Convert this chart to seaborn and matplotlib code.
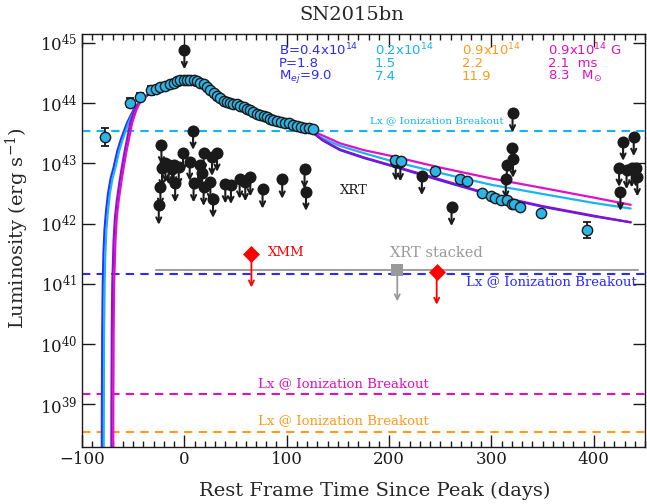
import numpy as np
import pandas as pd
import matplotlib
matplotlib.use("Agg")
import matplotlib.pyplot as plt
import seaborn as sns

# ---- bolometric light curve (rest-frame days since peak, erg/s) ----
lc_days = [-78, -53, -43.6, -33, -28, -23.4, -18.5, -13.7, -10, -7.2, -4, -0.6, 3, 5.9,
           9, 12.4, 15.5, 18.9, 22, 25.4, 28.5, 31.9, 35, 38.4, 41.5, 44.9, 48, 51.4,
           54.5, 57.9, 61, 64.4, 67.5, 70.9, 74, 77.4, 80.5, 83.9, 87, 90.4, 94, 98,
           102, 106, 110, 114, 118, 122, 126, 206, 211.4, 245, 269, 276.4, 290.4, 300,
           303.6, 309, 314.8, 319.7, 322, 327.8, 348, 393.5]
lc_lum = [2.75e43, 1.02e44, 1.26e44, 1.62e44, 1.74e44, 1.86e44, 1.95e44, 2.04e44,
          2.19e44, 2.29e44, 2.40e44, 2.45e44, 2.45e44, 2.45e44, 2.40e44, 2.29e44,
          2.19e44, 2.04e44, 1.86e44, 1.66e44, 1.48e44, 1.32e44, 1.20e44, 1.10e44,
          1.05e44, 1.00e44, 9.8e43, 9.5e43, 9.1e43, 8.7e43, 8.1e43, 7.8e43, 7.1e43,
          6.6e43, 6.3e43, 6.0e43, 5.8e43, 5.5e43, 5.2e43, 5.1e43, 4.9e43, 4.7e43,
          4.6e43, 4.4e43, 4.2e43, 4.0e43, 3.9e43, 3.8e43, 3.7e43, 1.12e43, 1.10e43,
          7.4e42, 5.4e42, 5.1e42, 3.2e42, 2.9e42, 2.7e42, 2.45e42, 2.5e42, 2.1e42,
          2.15e42, 1.86e42, 1.5e42, 7.9e41]
# error in dex (0 = no bar drawn)
lc_err = [0.15, 0.07, 0.07, 0.08] + [0] * 45 + [0.05, 0.05, 0.05] + [0] * 11 + [0.13]

# ---- Swift-XRT upper limits ----
xrt_days = [0, -22.4, 8.5, -1.3, 18.8, 31.9, 27, 5.2, -18.5, -15.3, -10.4, -5.5, -21.8,
            15.6, 17.3, -23.4, -9, 9, 18.8, 25.4, 28, 40, 45.5, 54, 59.5, 64.4, 76.4,
            95.6, 117.4, 118.8, -25, -12, 206.5, 211, 232, 261, 314, 315, 319.6, 321,
            320.6, 428.6, 439, 424.7, 432, 437, 441, 442.5, 426]
xrt_lum = [7.6e44, 2.0e43, 3.5e43, 1.48e43, 1.51e43, 1.51e43, 1.29e43, 1.07e43, 1.0e43,
           9.3e42, 9.3e42, 8.7e42, 8.3e42, 9.3e42, 6.8e42, 4.1e42, 4.7e42, 4.7e42,
           4.1e42, 4.9e42, 2.6e42, 4.5e42, 4.4e42, 5.4e42, 4.9e42, 5.9e42, 3.7e42,
           5.4e42, 7.9e42, 3.4e42, 2.0e42, 7.9e42, 1.07e43, 1.05e43, 6.2e42, 1.9e42,
           5.4e42, 9.3e42, 1.78e43, 1.2e43, 6.8e43, 2.3e43, 2.75e43, 8.5e42, 7.8e42,
           8.3e42, 8.5e42, 5.9e42, 3.4e42]

xmm_days = [65.5, 246.5]
xmm_lum = [3.1e41, 1.6e41]
stack_days = [208.0]
stack_lum = [1.7e41]
stack_span = [-28, 443]

# ---- magnetar models ----
rise_blue = [-80.7, -80.5, -80.2, -79.7, -79.0, -78.0, -76.5, -74.5, -72.0, -69.0, -65.5, -62.0, -56.0, -49.5]
rise_cyan = [-78.9, -78.7, -78.4, -77.9, -77.2, -76.2, -74.7, -72.7, -70.2, -67.2, -63.7, -60.2, -54.5, -48.5]
rise_blue_lum = [3e37, 1e39, 1.6e40, 1e41, 3.2e41, 7.9e41, 1.6e42, 3.2e42, 5.6e42, 8.7e42, 1.6e43, 2.5e43, 4.7e43, 7.8e43]
rise_mag = [-69.6, -69.4, -69.1, -68.6, -67.3, -66.0, -64.1, -61.5, -59.2, -56.5, -54.3, -51.0, -47.0]
rise_pur = [-71.4, -71.2, -70.9, -70.4, -69.1, -67.8, -65.9, -63.3, -61.0, -58.3, -56.1, -52.8, -48.8]
rise_mag_lum = [3e37, 1e39, 1.6e40, 1e41, 5.2e41, 1.26e42, 2.45e42, 5e42, 8.7e42, 1.6e43, 2.45e43, 4.7e43, 7.6e43]

mid_days = [-42, -30, -15, 0, 15, 30, 45, 60, 80, 100, 120, 135, 152, 175, 200, 250, 300, 350, 400, 436]
mid_lum = [1.15e44, 1.6e44, 2.0e44, 2.15e44, 1.9e44, 1.4e44, 1.0e44, 8.0e43, 5.9e43, 4.7e43, 3.8e43]
blue_tail = [2.4e43, 1.66e43, 1.23e43, 9.3e42, 5.2e42, 2.95e42, 1.9e42, 1.32e42, 1.05e42]
cyan_tail = [2.6e43, 1.95e43, 1.48e43, 1.12e43, 6.9e42, 4.4e42, 3.1e42, 2.2e42, 1.78e42]
pur_tail = [2.45e43, 1.7e43, 1.26e43, 9.5e42, 5.4e42, 3.0e42, 1.95e42, 1.35e42, 1.05e42]
mag_tail = [2.9e43, 2.15e43, 1.66e43, 1.35e43, 8.5e42, 5.6e42, 3.9e42, 2.7e42, 2.05e42]

models = {
    "B0.4": (rise_blue, rise_blue_lum, blue_tail),
    "B0.2": (rise_cyan, rise_blue_lum, cyan_tail),
    "B0.9a": (rise_pur, rise_mag_lum, pur_tail),
    "B0.9b": (rise_mag, rise_mag_lum, mag_tail),
}
model_colors = {"B0.4": "#2b2bff", "B0.2": "#1ab4f0", "B0.9a": "#8a10d0", "B0.9b": "#e010c8"}

# breakout luminosities
lx_cyan, lx_blue, lx_mag, lx_orange = 3.47e43, 1.48e41, 1.5e39, 3.5e38

BLUE, CYAN, ORANGE, MAGENTA = "#2b2bff", "#12b4f0", "#ff9a1a", "#e010c0"

rows = []
for name, (rd, rl, tail) in models.items():
    for d, l in zip(rd + mid_days, rl + mid_lum + tail):
        rows.append((name, d, l))
mdf = pd.DataFrame(rows, columns=["model", "day", "lum"])

sns.set_theme(style="ticks")
plt.rcParams["font.family"] = ["DejaVu Serif"]
plt.rcParams["mathtext.fontset"] = "dejavuserif"

fig = plt.figure(figsize=(6.47, 5.04), dpi=100)
ax = fig.add_axes([82 / 647, 1 - 446.5 / 504, 563 / 647, 412.5 / 504])
ax.set_yscale("log")
ax.set_xlim(-100, 450)
ax.set_ylim(2e38, 1.4e45)

# dashed breakout levels
for lev, col in [(lx_cyan, CYAN), (lx_blue, BLUE), (lx_mag, MAGENTA), (lx_orange, ORANGE)]:
    ax.axhline(lev, color=col, lw=1.5, ls=(0, (4, 3)), zorder=1)

sns.lineplot(data=mdf, x="day", y="lum", hue="model", palette=model_colors,
             sort=False, estimator=None, lw=1.6, legend=False, ax=ax, zorder=2)

# gray stacked line
ax.plot(stack_span, [stack_lum[0], stack_lum[0]], color="#a0a0a0", lw=1.5, zorder=2)

# XRT upper limits
for d, l in zip(xrt_days, xrt_lum):
    ax.annotate("", xy=(d, l / 10 ** 0.32), xytext=(d, l),
                arrowprops=dict(arrowstyle="->", color="k", lw=1.5, shrinkA=0, shrinkB=0,
                                mutation_scale=9), zorder=3)
sns.scatterplot(x=xrt_days, y=xrt_lum, color="k", s=75, edgecolor="k", linewidth=0, ax=ax, zorder=4)

# light curve
err = np.array(lc_err)
lum = np.array(lc_lum)
m = err > 0
ax.errorbar(np.array(lc_days)[m], lum[m],
            yerr=[lum[m] - lum[m] / 10 ** err[m], lum[m] * 10 ** err[m] - lum[m]],
            fmt="none", ecolor="k", elinewidth=1.3, capsize=3, capthick=1.3, zorder=5)
sns.scatterplot(x=lc_days, y=lc_lum, color="#2cb5e6", s=55, edgecolor="k", linewidth=1.0,
                ax=ax, zorder=6)

# XMM and stacked XRT
for d, l in zip(xmm_days, xmm_lum):
    ax.annotate("", xy=(d, l / 10 ** 0.55), xytext=(d, l),
                arrowprops=dict(arrowstyle="->", color="red", lw=1.3, shrinkA=0, shrinkB=0,
                                mutation_scale=9), zorder=6)
sns.scatterplot(x=xmm_days, y=xmm_lum, color="red", marker="D", s=75, linewidth=0, ax=ax, zorder=7)
for d, l in zip(stack_days, stack_lum):
    ax.annotate("", xy=(d, l / 10 ** 0.52), xytext=(d, l),
                arrowprops=dict(arrowstyle="->", color="#999999", lw=1.3, shrinkA=0, shrinkB=0,
                                mutation_scale=9), zorder=6)
sns.scatterplot(x=stack_days, y=stack_lum, color="#999999", marker="s", s=80, linewidth=0, ax=ax, zorder=7)

# labels
lab = "Lx @ Ionization Breakout"
ax.text(312, 5.1e43, lab, color=CYAN, fontsize=7.5, ha="right", va="center")
ax.text(442, 1.07e41, lab, color=BLUE, fontsize=9.5, ha="right", va="center")
ax.text(155, 2.25e39, lab, color=MAGENTA, fontsize=9.5, ha="center", va="center")
ax.text(155, 5.3e38, lab, color=ORANGE, fontsize=9.5, ha="center", va="center")
ax.text(82, 3.3e41, "XMM", color="red", fontsize=9.5, va="center")
ax.text(201, 3.3e41, "XRT stacked", color="#999999", fontsize=10.5, va="center")
ax.text(152, 3.5e42, "XRT", color="k", fontsize=9.5, va="center")

par = [(92, BLUE, ["B=0.4x10$^{14}$", "P=1.8", "M$_{ej}$=9.0"]),
       (186, CYAN, ["0.2x10$^{14}$", "1.5", "7.4"]),
       (271, ORANGE, ["0.9x10$^{14}$", "2.2", "11.9"]),
       (355, MAGENTA, ["0.9x10$^{14}$ G", "2.1  ms", "8.3   M$_{\\odot}$"])]
row_y = [7.7e44, 4.6e44, 2.74e44]
for x0, col, txt in par:
    for y0, t in zip(row_y, txt):
        ax.text(x0, y0, t, color=col, fontsize=9.5, va="center", family="DejaVu Sans",
                math_fontfamily="dejavusans", zorder=8)

ax.set_title("SN2015bn", fontsize=14, pad=10, x=0.48)
ax.set_xlabel("Rest Frame Time Since Peak (days)", fontsize=14)
ax.xaxis.set_label_coords(0.52, -0.085)
ax.set_ylabel("Luminosity (erg s$^{-1}$)", fontsize=14)
ax.yaxis.set_label_coords(-0.09, 0.53)

ax.set_xticks([-100, 0, 100, 200, 300, 400])
ax.xaxis.set_minor_locator(matplotlib.ticker.MultipleLocator(10))
ax.yaxis.set_minor_locator(matplotlib.ticker.NullLocator())
ax.tick_params(which="both", direction="in", top=True, right=True, colors="k", labelsize=12)
ax.tick_params(which="major", length=9, width=1)
ax.tick_params(which="minor", length=4, width=1)
for s in ax.spines.values():
    s.set_color("k")
    s.set_linewidth(1)

fig.savefig("out.png", dpi=100)
